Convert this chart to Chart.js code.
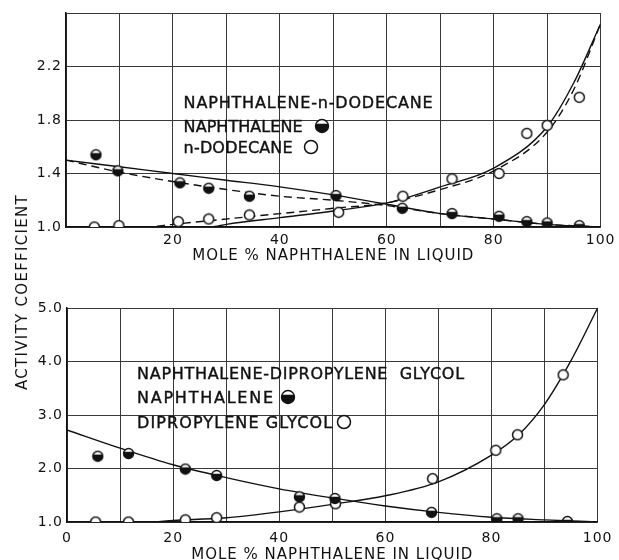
<!DOCTYPE html>
<html>
<head>
<meta charset="utf-8">
<script src="https://cdn.jsdelivr.net/npm/chart.js@4.4.1/dist/chart.umd.min.js"></script>
<style>
html, body { margin: 0; padding: 0; background: #fff; width: 619px; height: 560px; overflow: hidden; }
canvas { position: absolute; left: 0; }
#top { top: 0; }
#bottom { top: 272px; }
#ytitle {
    position: absolute; left: 22px; top: 292px;
    transform: translate(-50%, -50%) rotate(-90deg);
    font: 15px "DejaVu Sans"; letter-spacing: 1.3px; white-space: nowrap; color: #111;
}
</style>
</head>
<body>
<canvas id="top" width="619" height="272"></canvas>
<canvas id="bottom" width="619" height="288"></canvas>
<div id="ytitle">ACTIVITY COEFFICIENT</div>
<script>
// ---- top panel: naphthalene - n-dodecane ----
const dodNaphX = [5.6, 9.7, 21.3, 26.7, 34.3, 50.5, 62.9, 72.2, 81, 86.2, 90, 96];
const dodNaphY = [1.54, 1.42, 1.33, 1.29, 1.23, 1.235, 1.14, 1.10, 1.08, 1.04, 1.03, 1.01];
const dodX = [5.3, 9.9, 21, 26.7, 34.3, 51, 63, 72.2, 81, 86.2, 90, 96];
const dodY = [1.0, 1.01, 1.04, 1.06, 1.09, 1.11, 1.23, 1.36, 1.40, 1.70, 1.76, 1.97];

const curveX = [0, 10, 20, 30, 40, 50, 60, 70, 80, 90, 100];
const dodNaphSolid = [1.50, 1.45, 1.40, 1.35, 1.30, 1.24, 1.17, 1.10, 1.06, 1.02, 1.00];
const dodNaphDash = [1.50, 1.41, 1.34, 1.28, 1.23, 1.20, 1.16, 1.10, 1.06, 1.02, 1.00];
const dodSolidX = [0, 10, 20, 27, 30, 40, 50, 60, 70, 80, 90, 95, 100];
const dodSolid = [1.0, 1.0, 1.0, 1.0, 1.02, 1.07, 1.12, 1.18, 1.30, 1.44, 1.75, 2.08, 2.52];
const dodDashX = [0, 10, 15, 20, 30, 40, 50, 60, 70, 80, 90, 95, 100];
const dodDash = [1.0, 1.0, 1.0, 1.02, 1.06, 1.10, 1.14, 1.18, 1.28, 1.42, 1.71, 2.03, 2.52];

// ---- bottom panel: naphthalene - dipropylene glycol ----
const dipNaphX = [5.8, 11.6, 22.3, 28.2, 43.8, 50.5, 68.7, 81, 85, 94.3];
const dipNaphY = [2.23, 2.28, 1.99, 1.87, 1.47, 1.44, 1.18, 1.06, 1.06, 1.01];
const dipX = [5.4, 11.6, 22.3, 28.2, 43.8, 50.6, 68.9, 80.8, 84.9, 93.5];
const dipY = [1.0, 1.0, 1.04, 1.08, 1.28, 1.34, 1.81, 2.34, 2.63, 3.75];
const dipNaphCurve = [2.72, 2.38, 2.07, 1.83, 1.62, 1.45, 1.30, 1.18, 1.09, 1.04, 1.00];
const dipCurveX = [0, 10, 15, 20, 30, 40, 50, 60, 70, 80, 85, 90, 95, 100];
const dipCurve = [1.0, 1.0, 1.0, 1.03, 1.08, 1.19, 1.33, 1.49, 1.75, 2.25, 2.62, 3.2, 4.02, 5.0];

const INK = '#111';
const FONT = 'DejaVu Sans';

function pts(xs, ys) {
    return xs.map(function(x, i) { return {x: x, y: ys[i]}; });
}

// half filled marker (white cap on top)
function halfDot(r) {
    const s = Math.ceil(2 * r + 3);
    const c = document.createElement('canvas');
    c.width = c.height = s;
    const g = c.getContext('2d');
    const m = s / 2;
    g.beginPath(); g.arc(m, m, r, 0, Math.PI * 2);
    g.fillStyle = INK; g.fill();
    g.save(); g.clip();
    g.fillStyle = '#fff'; g.fillRect(0, 0, s, m - r * 0.35);
    g.restore();
    g.beginPath(); g.arc(m, m, r, 0, Math.PI * 2);
    g.lineWidth = 1.4; g.strokeStyle = INK; g.stroke();
    return c;
}
function openDot(r) {
    const s = Math.ceil(2 * r + 3);
    const c = document.createElement('canvas');
    c.width = c.height = s;
    const g = c.getContext('2d');
    g.beginPath(); g.arc(s / 2, s / 2, r, 0, Math.PI * 2);
    g.fillStyle = '#fff'; g.fill();
    g.lineWidth = 1.5; g.strokeStyle = INK; g.stroke();
    return c;
}
const halfMark = halfDot(5);
const openMark = openDot(5);
const legendHalf = halfDot(6.5);
const legendOpen = openDot(6.5);

// text block inside the plot
const notes = {
    id: 'notes',
    beforeDraw(chart) {
        chart.ctx.letterSpacing = '1px';
    },
    afterDatasetsDraw(chart, args, opts) {
        const ctx = chart.ctx, x = chart.scales.x, y = chart.scales.y;
        ctx.save();
        ctx.font = '16px "' + FONT + '"';
        ctx.fillStyle = INK;
        ctx.strokeStyle = INK;
        ctx.lineWidth = 0.4;
        ctx.textBaseline = 'alphabetic';
        ctx.textAlign = 'left';
        opts.lines.forEach(function(l) {
            const px = x.getPixelForValue(opts.x), py = y.getPixelForValue(l.y) + 5.8;
            ctx.letterSpacing = '0px';
            const w = ctx.measureText(l.text).width;
            ctx.letterSpacing = Math.max(0, (l.width - w) / (l.text.length - 1)) + 'px';
            ctx.fillText(l.text, px, py);
            ctx.strokeText(l.text, px, py);
            if (l.mark) {
                const mx = x.getPixelForValue(l.markX), my = y.getPixelForValue(l.y);
                ctx.drawImage(l.mark, Math.round(mx - l.mark.width / 2), Math.round(my - l.mark.height / 2));
            }
        });
        ctx.restore();
    }
};

function curve(xs, ys, dash) {
    return {
        data: pts(xs, ys), showLine: true, pointRadius: 0, borderColor: INK,
        borderWidth: 1.4, borderDash: dash ? [8, 5] : [], cubicInterpolationMode: 'monotone', order: 2
    };
}
function marks(xs, ys, style) {
    return {
        data: pts(xs, ys), showLine: false, pointStyle: style, pointRadius: 6, order: 0
    };
}

function options(cfg) {
    return {
        responsive: false,
        animation: false,
        layout: { padding: { top: cfg.padTop, right: cfg.padRight, left: 0, bottom: 0 } },
        plugins: {
            legend: { display: false },
            tooltip: { enabled: false },
            notes: cfg.notes
        },
        scales: {
            x: {
                type: 'linear', min: 0, max: 100,
                afterFit: function(s) { s.height = cfg.xHeight; },
                ticks: {
                    stepSize: 10, padding: cfg.xPad, color: INK, autoSkip: false, maxRotation: 0,
                    font: { family: FONT, size: 14 },
                    callback: function(v) { return (v % 20 === 0 && (v > 0 || cfg.showZero)) ? String(v) : ''; }
                },
                grid: { color: '#3a3a3a', lineWidth: 1, drawTicks: false },
                border: { color: INK, width: 1.5 },
                title: {
                    display: true, text: 'MOLE % NAPHTHALENE IN LIQUID', color: INK,
                    font: { family: FONT, size: 15, lineHeight: 1 },
                    padding: { top: 0, bottom: cfg.titlePad }
                }
            },
            y: {
                type: 'linear', min: cfg.yMin, max: cfg.yMax,
                afterFit: function(s) { s.width = cfg.yWidth; },
                ticks: {
                    stepSize: cfg.yStep, padding: 4, color: INK,
                    font: { family: FONT, size: 14 },
                    callback: function(v) { return v > cfg.yLast + 1e-6 ? '' : v.toFixed(1); }
                },
                grid: { color: '#3a3a3a', lineWidth: 1, drawTicks: false },
                border: { color: INK, width: 1.5 }
            }
        }
    };
}

new Chart(document.getElementById('top'), {
    type: 'scatter',
    data: {
        datasets: [
            marks(dodNaphX, dodNaphY, halfMark),
            marks(dodX, dodY, openMark),
            curve(curveX, dodNaphSolid, false),
            curve(curveX, dodNaphDash, true),
            curve(dodSolidX, dodSolid, false),
            curve(dodDashX, dodDash, true)
        ]
    },
    options: options({
        padTop: 13, padRight: 17, xHeight: 45, yWidth: 66, xPad: 5, titlePad: 8.5, showZero: false,
        yMin: 1.0, yMax: 2.6, yStep: 0.4, yLast: 2.2,
        notes: {
            x: 22.0,
            lines: [
                { text: 'NAPHTHALENE-n-DODECANE', y: 1.935, width: 249 },
                { text: 'NAPHTHALENE', y: 1.755, width: 119, mark: legendHalf, markX: 47.8 },
                { text: 'n-DODECANE', y: 1.598, width: 109, mark: legendOpen, markX: 45.9 }
            ]
        }
    }),
    plugins: [notes]
});

new Chart(document.getElementById('bottom'), {
    type: 'scatter',
    data: {
        datasets: [
            marks(dipNaphX, dipNaphY, halfMark),
            marks(dipX, dipY, openMark),
            curve(curveX, dipNaphCurve, false),
            curve(dipCurveX, dipCurve, false)
        ]
    },
    options: options({
        padTop: 36, padRight: 16, xHeight: 38, yWidth: 67, xPad: 8, titlePad: -3, showZero: true,
        yMin: 1, yMax: 5, yStep: 1, yLast: 5,
        notes: {
            x: 13.2,
            lines: [
                { text: 'NAPHTHALENE-DIPROPYLENE  GLYCOL', y: 3.785, width: 327 },
                { text: 'NAPHTHALENE', y: 3.336, width: 136, mark: legendHalf, markX: 41.6 },
                { text: 'DIPROPYLENE GLYCOL', y: 2.87, width: 195, mark: legendOpen, markX: 52.2 }
            ]
        }
    }),
    plugins: [notes]
});
</script>
</body>
</html>
